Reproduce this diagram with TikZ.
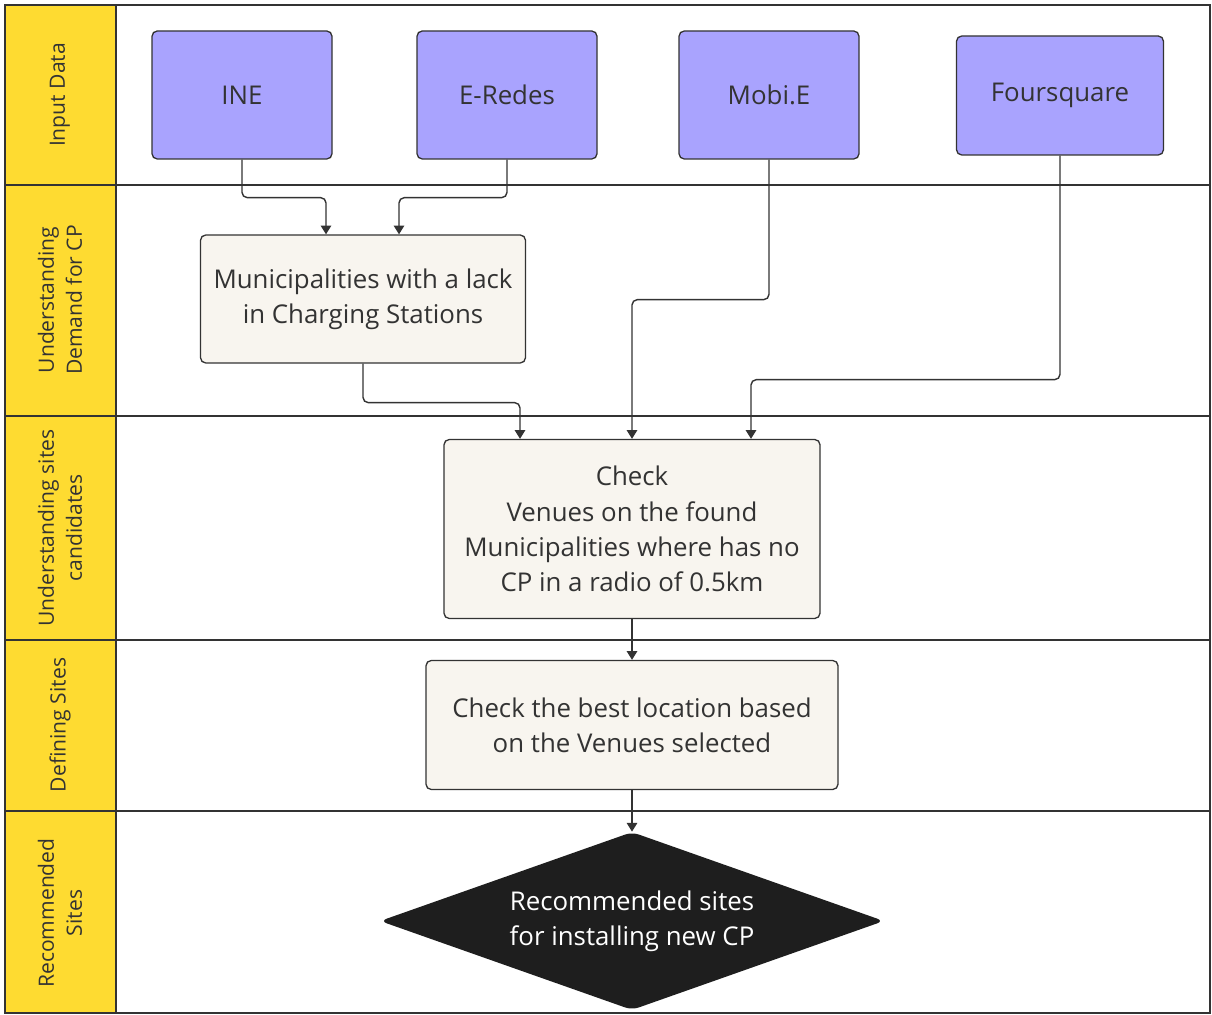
\documentclass[tikz,border=0pt]{standalone}
\usepackage{fontspec}
\setmainfont{Open Sans}
\usepackage{tikz}
\usetikzlibrary{arrows.meta,positioning,shapes.geometric}
\definecolor{ink}{HTML}{333333}
\definecolor{lanegold}{HTML}{FEDB31}
\definecolor{softviolet}{HTML}{A9A3FE}
\definecolor{cream}{HTML}{F8F5EF}
\definecolor{night}{HTML}{1E1E1E}

\begin{document}
\begin{tikzpicture}[
  font=\fontsize{14.7}{20}\selectfont,
  lanelabel/.style={rotate=90, align=center, text=ink, font=\fontsize{12}{16}\selectfont},
  lane/.style={draw=ink, line width=0.85pt},
  srcbox/.style={rounded corners=3pt, draw=ink, line width=0.75pt, fill=softviolet, text=ink, align=center, minimum width=3.6cm, minimum height=2.56cm},
  procbox/.style={rounded corners=3pt, draw=ink, line width=0.75pt, fill=cream, text=ink, align=center},
  endbox/.style={diamond, shape aspect=2.83, rounded corners=4pt, fill=night, text=white, align=center, inner sep=0pt, minimum width=10.08cm, minimum height=3.56cm},
  arrow/.style={-{Triangle[length=5pt,width=6pt]}, draw=ink, line width=0.8pt, rounded corners=3pt}
]
\useasboundingbox (0,0) rectangle (24.24,-20.3);

% swimlanes
\fill[lanegold] (0.1,-0.1) rectangle (2.32,-20.26);
\draw[lane] (0.1,-0.1) rectangle (24.2,-20.26);
\draw[lane] (2.32,-0.1) -- (2.32,-20.26);
\foreach \y in {-3.70,-8.32,-12.80,-16.22}{
  \draw[lane] (0.1,\y) -- (24.2,\y);
}
\node[lanelabel] (l1) at (1.2,-1.90) {Input Data};
\node[lanelabel] (l2) at (1.2,-6.00) {Understanding\\Demand for CP};
\node[lanelabel] (l3) at (1.2,-10.56) {Understanding sites\\candidates};
\node[lanelabel] (l4) at (1.2,-14.50) {Defining Sites};
\node[lanelabel] (l5) at (1.2,-18.26) {Recommended\\Sites};

% input sources
\node[srcbox] (ine) at (4.84,-1.90) {INE};
\node[srcbox] (eredes) at (10.14,-1.90) {E-Redes};
\node[srcbox] (mobie) at (15.38,-1.90) {Mobi.E};
\node[srcbox, minimum width=4.14cm, minimum height=2.38cm] (foursq) at (21.20,-1.91) {Foursquare};

% process steps
\node[procbox, minimum width=6.5cm, minimum height=2.56cm] (muni) at (7.26,-5.98)
{Municipalities with a lack\\in Charging Stations};
\node[procbox, minimum width=7.52cm, minimum height=3.58cm] (venues) at (12.64,-10.58)
{Check\\Venues on the found\\Municipalities where has no\\CP in a radio of 0.5km};
\node[procbox, minimum width=8.24cm, minimum height=2.58cm] (best) at (12.64,-14.50)
{Check the best location based\\on the Venues selected};
\node[endbox] (sites) at (12.64,-18.42)
{Recommended sites\\for installing new CP};

% connectors
\draw[arrow] (ine.south) -- ++(0,-0.76) -| ([xshift=-0.74cm]muni.north);
\draw[arrow] (eredes.south) -- ++(0,-0.76) -| ([xshift=0.72cm]muni.north);
\draw[arrow] (mobie.south) -- ++(0,-2.8) -| (venues.north);
\draw[arrow] (foursq.south) -- ++(0,-4.48) -| ([xshift=2.38cm]venues.north);
\draw[arrow] (muni.south) -- ++(0,-0.78) -| ([xshift=-2.24cm]venues.north);
\draw[arrow] (venues) -- (best);
\draw[arrow] (best) -- (sites);

\end{tikzpicture}
\end{document}
